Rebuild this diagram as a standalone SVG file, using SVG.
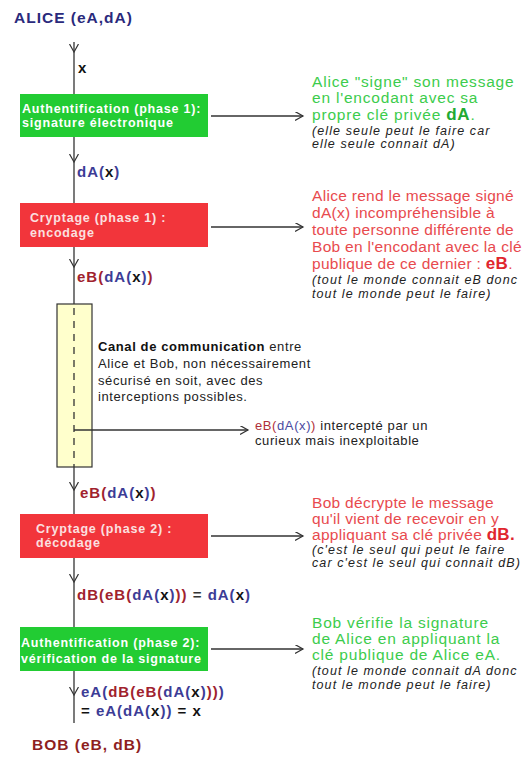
<svg xmlns="http://www.w3.org/2000/svg" width="527" height="757" viewBox="0 0 527 757">
<defs>
<marker id="ah" markerUnits="userSpaceOnUse" markerWidth="12" markerHeight="12" refX="8" refY="4.5" orient="auto">
<path d="M0,0 L8,4.5 L0,9" fill="none" stroke="#333" stroke-width="1.2"/>
</marker>
</defs>
<style>
.bg{fill:#fff}
.ln{stroke:#333;stroke-width:1.3;fill:none}
.dash{stroke:#333;stroke-width:1.3;fill:none;stroke-dasharray:7 6}
.gbox{fill:#22cc33}
.rbox{fill:#f2353b}
.btxt{font-family:"Liberation Sans",Arial,sans-serif;font-weight:bold;font-size:12.5px;letter-spacing:0.8px}
.gt{fill:#ffffff}
.rt{fill:#fbe0e0}
.lbl{font-family:"Liberation Sans",Arial,sans-serif;font-weight:bold;font-size:15px;letter-spacing:1px}
.R{fill:#a0222e}
.B{fill:#3c3c96}
.K{fill:#111}
.note{font-family:"Liberation Sans",Arial,sans-serif;font-size:15.5px;letter-spacing:0.8px}
.ng{fill:#3ccc4c}
.nr{fill:#e84a4e;letter-spacing:0.3px}
.it{font-family:"Liberation Sans",Arial,sans-serif;font-style:italic;font-size:12.5px;letter-spacing:1.1px;fill:#222}
.small{font-family:"Liberation Sans",Arial,sans-serif;font-size:13px;letter-spacing:0.6px;fill:#222}
.title{font-family:"Liberation Sans",Arial,sans-serif;font-weight:bold;font-size:15.5px;letter-spacing:1px}
</style>
<rect class="bg" x="0" y="0" width="527" height="757"/>

<g id="connectors">
<path class="ln" d="M74,42 V52" marker-end="url(#ah)"/>
<path class="ln" d="M74,52 V94"/>
<path class="ln" d="M74,137 V162" marker-end="url(#ah)"/>
<path class="ln" d="M74,162 V203"/>
<path class="ln" d="M74,247 V267" marker-end="url(#ah)"/>
<path class="ln" d="M74,267 V304"/>
<path class="ln" d="M74,467 V490" marker-end="url(#ah)"/>
<path class="ln" d="M74,490 V514"/>
<path class="ln" d="M74,558 V582" marker-end="url(#ah)"/>
<path class="ln" d="M74,582 V627"/>
<path class="ln" d="M74,671 V695" marker-end="url(#ah)"/>
<path class="ln" d="M74,695 V723"/>
<path class="ln" d="M211,116 H303" marker-end="url(#ah)"/>
<path class="ln" d="M211,227 H303" marker-end="url(#ah)"/>
<path class="ln" d="M211,536 H303" marker-end="url(#ah)"/>
<path class="ln" d="M211,649 H303" marker-end="url(#ah)"/>
</g>

<g id="alice">
<text class="title" x="14" y="23" fill="#2a2a7c">ALICE (eA,dA)</text>
</g>

<g id="label-x">
<text class="lbl K" x="78" y="73">x</text>
</g>

<g id="auth1">
<rect class="gbox" x="20" y="94" width="188" height="43"/>
<text class="btxt gt" x="22" y="112.5">Authentification (phase 1):</text>
<text class="btxt gt" x="22" y="126.5">signature électronique</text>
</g>

<g id="note-auth1">
<text class="note ng" x="312" y="87">Alice "signe" son message</text>
<text class="note ng" x="312" y="103">en l'encodant avec sa</text>
<text class="note ng" x="312" y="119.5">propre clé privée <tspan font-weight="bold" font-size="17" fill="#22aa33">dA</tspan>.</text>
<text class="it" x="312" y="134.5">(elle seule peut le faire car</text>
<text class="it" x="312" y="148">elle seule connait dA)</text>
</g>

<g id="label-dAx">
<text class="lbl" x="77" y="177"><tspan class="B">dA(</tspan><tspan class="K">x</tspan><tspan class="B">)</tspan></text>
</g>

<g id="crypt1">
<rect class="rbox" x="20" y="203" width="188" height="44"/>
<text class="btxt rt" x="30" y="222">Cryptage (phase 1) :</text>
<text class="btxt rt" x="30" y="236.5">encodage</text>
</g>

<g id="note-crypt1">
<text class="note nr" x="312" y="201">Alice rend le message signé</text>
<text class="note nr" x="312" y="218">dA(x) incompréhensible à</text>
<text class="note nr" x="312" y="235">toute personne différente de</text>
<text class="note nr" x="312" y="252">Bob en l'encodant avec la clé</text>
<text class="note nr" x="312" y="269">publique de ce dernier : <tspan font-weight="bold" font-size="17" fill="#e0262e">eB</tspan>.</text>
<text class="it" x="312" y="284">(tout le monde connait eB donc</text>
<text class="it" x="312" y="297.5">tout le monde peut le faire)</text>
</g>

<g id="label-eB1">
<text class="lbl" x="77" y="282"><tspan class="R">eB(</tspan><tspan class="B">dA(</tspan><tspan class="K">x</tspan><tspan class="B">)</tspan><tspan class="R">)</tspan></text>
</g>

<g id="canal">
<rect x="57" y="304" width="35" height="163" fill="#ffffcc" stroke="#333" stroke-width="1.2"/>
<path class="dash" d="M74,308 V467"/>
<path class="ln" d="M74,430 H248" marker-end="url(#ah)"/>
<text class="small" x="98" y="351"><tspan font-weight="bold" fill="#111">Canal de communication</tspan> entre</text>
<text class="small" x="98" y="368">Alice et Bob, non nécessairement</text>
<text class="small" x="98" y="384.5">sécurisé en soit, avec des</text>
<text class="small" x="98" y="401">interceptions possibles.</text>
</g>

<g id="note-intercept">
<text class="small" x="255" y="430" font-size="12.5"><tspan fill="#b0303a">eB(</tspan><tspan fill="#4a4aa0">dA(x)</tspan><tspan fill="#b0303a">)</tspan> intercepté par un</text>
<text class="small" x="255" y="445" font-size="12.5">curieux mais inexploitable</text>
</g>

<g id="label-eB2">
<text class="lbl" x="80" y="498"><tspan class="R">eB(</tspan><tspan class="B">dA(</tspan><tspan class="K">x</tspan><tspan class="B">)</tspan><tspan class="R">)</tspan></text>
</g>

<g id="crypt2">
<rect class="rbox" x="20" y="514" width="188" height="44"/>
<text class="btxt rt" x="36" y="533">Cryptage (phase 2) :</text>
<text class="btxt rt" x="36" y="547">décodage</text>
</g>

<g id="note-crypt2">
<text class="note nr" x="312" y="508">Bob décrypte le message</text>
<text class="note nr" x="312" y="524">qu'il vient de recevoir en y</text>
<text class="note nr" x="312" y="540">appliquant sa clé privée <tspan font-weight="bold" font-size="17" fill="#e0262e">dB.</tspan></text>
<text class="it" x="312" y="554">(c'est le seul qui peut le faire</text>
<text class="it" x="312" y="567">car c'est le seul qui connait dB)</text>
</g>

<g id="label-dB">
<text class="lbl" x="77" y="600"><tspan class="R">dB(eB(</tspan><tspan class="B">dA(</tspan><tspan class="K">x</tspan><tspan class="B">)</tspan><tspan class="R">))</tspan><tspan fill="#333"> = </tspan><tspan class="B">dA(</tspan><tspan class="K">x</tspan><tspan class="B">)</tspan></text>
</g>

<g id="auth2">
<rect class="gbox" x="20" y="627" width="188" height="44"/>
<text class="btxt gt" x="21" y="646.5">Authentification (phase 2):</text>
<text class="btxt gt" x="21" y="662.5">vérification de la signature</text>
</g>

<g id="note-auth2">
<text class="note ng" x="312" y="628">Bob vérifie la signature</text>
<text class="note ng" x="312" y="644">de Alice en appliquant la</text>
<text class="note ng" x="312" y="660">clé publique de Alice eA.</text>
<text class="it" x="312" y="675">(tout le monde connait dA donc</text>
<text class="it" x="312" y="688.5">tout le monde peut le faire)</text>
</g>

<g id="label-eA">
<text class="lbl" x="81" y="697"><tspan class="B">eA(</tspan><tspan class="R">dB(eB(</tspan><tspan class="B">dA(</tspan><tspan class="K">x</tspan><tspan class="B">)</tspan><tspan class="R">))</tspan><tspan class="B">)</tspan></text>
<text class="lbl" x="81" y="715.5"><tspan class="K">= </tspan><tspan class="B">eA(dA(</tspan><tspan class="K">x</tspan><tspan class="B">))</tspan><tspan class="K"> = x</tspan></text>
</g>

<g id="bob">
<text class="title" x="32" y="750" fill="#8e1f1f">BOB (eB, dB)</text>
</g>
</svg>
